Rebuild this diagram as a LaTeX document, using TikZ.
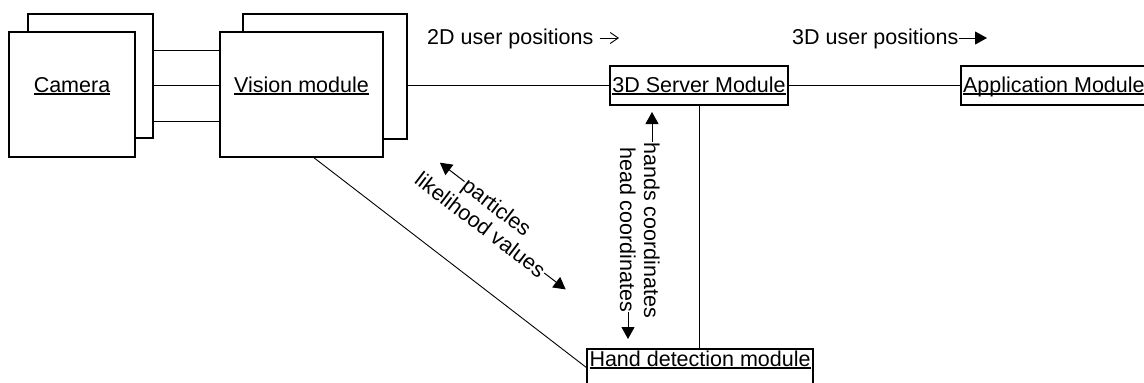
\documentclass[tikz,border=0pt]{standalone}
\usepackage{fontspec}
\setmainfont{Liberation Sans}
\usetikzlibrary{arrows.meta,calc}
% underlined label with a rule at a fixed depth below the baseline
\newsavebox\ulsave
\newcommand{\ulbox}[1]{\sbox\ulsave{#1}\rlap{\rule[-2.6pt]{\wd\ulsave}{1.2pt}}\usebox\ulsave}
\begin{document}
\begin{tikzpicture}[x=1pt, y=-1pt,
  font=\fontsize{21.5}{25}\selectfont,
  box/.style={draw, line width=1.5pt, fill=white, rectangle, inner sep=0pt,
    outer sep=0pt, anchor=north west},
  wire/.style={line width=0.9pt},
  sig/.style={line width=1pt, -{Triangle[length=12pt,width=13pt]}},
  opensig/.style={line width=0.9pt, -{Straight Barb[length=8pt,width=11pt]}},
  lbl/.style={inner sep=0pt, anchor=base west}]
\useasboundingbox (0,0) rectangle (1144,383);

% camera stack
\node[box, minimum width=125pt, minimum height=124pt] (camback) at (28,14) {};
\node[box, minimum width=126pt, text height=60pt, text depth=65pt] (cam) at (9,32) {\ulbox{Camera}};

% vision module stack
\node[box, minimum width=164pt, minimum height=125pt] (visback) at (243,14) {};
\node[box, minimum width=163pt, text height=60pt, text depth=65pt] (vis) at (220,32) {\ulbox{Vision module}};

% other modules
\node[box, minimum width=178pt, text height=26pt, text depth=13pt] (srv) at (610,66) {\ulbox{3D Server Module}};
\node[box, inner xsep=2pt, text height=26pt, text depth=13pt] (app) at (961,66) {\ulbox{Application Module}};
\node[box, inner xsep=2.5pt, text height=17pt, text depth=21pt] (hand) at (587,349) {\ulbox{Hand detection module}};

% camera to vision links
\coordinate (k1) at ($(camback.north east)!0.29!(camback.south east)$);
\coordinate (k2) at ($(camback.north east)!0.58!(camback.south east)$);
\coordinate (k3) at ($(camback.north east)!0.863!(camback.south east)$);
\draw[wire] (k1) -- (k1 -| vis.west);
\draw[wire] (k2) -- (k2 -| vis.west);
\draw[wire] (k3) -- (k3 -| vis.west);

% module links
\draw[wire] (srv.west -| visback.east) -- (srv.west);
\draw[wire] (srv.east) -- (app.west);
\draw[wire] (srv.south) -- (srv.south |- hand.north);
\draw[wire] ($(vis.south)+(11.5,0)$) -- (hand.west);

% message labels along the top
\node[lbl] (t2) at (427,44) {2D user positions};
\coordinate (t2tip) at (619,38);
\draw[opensig] (t2tip -| t2.east) ++(6,0) -- (t2tip);
\node[lbl] (t3) at (792,44) {3D user positions};
\coordinate (t3tip) at (987,38);
\draw[sig] (t3.east |- t3tip) -- (t3tip);

% messages between server and hand detection
\begin{scope}[shift={(644,112)}, rotate=-90, transform shape]
  \coordinate (hctip) at (0,-8);
  \coordinate (hcfoot) at (30,-8);
  \node[lbl] (hc) at (30,0) {hands coordinates};
  \node[lbl] (hdc) at (35,24) {head coordinates};
  \coordinate (hdfoot) at (200,16);
  \coordinate (hdtip) at (227,16);
\end{scope}
\draw[sig] (hcfoot) -- (hctip);
\draw[sig] (hdfoot) -- (hdtip);

% messages between vision and hand detection
\begin{scope}[shift={(435,169)}, rotate=-37.5, transform shape]
  \coordinate (pttip) at (0,-8);
  \coordinate (ptfoot) at (31,-8);
  \node[lbl] (pt) at (32,0) {particles};
  \node[lbl] (lv) at (-9,24) {likelihood values};
  \coordinate (lvfoot) at (150,16);
  \coordinate (lvtip) at (177,16);
\end{scope}
\draw[sig] (ptfoot) -- (pttip);
\draw[sig] (lvfoot) -- (lvtip);
\end{tikzpicture}
\end{document}
